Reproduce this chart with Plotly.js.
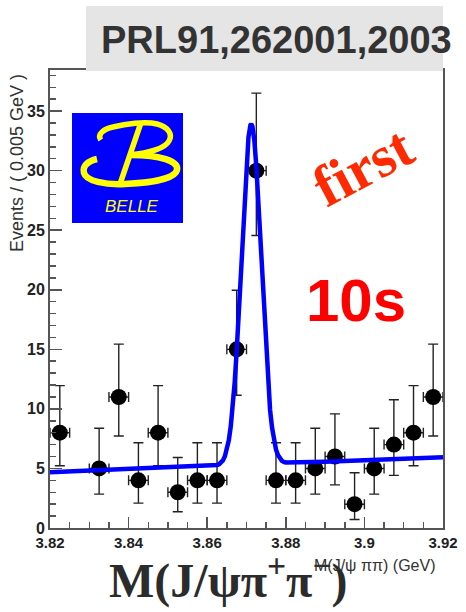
<!DOCTYPE html>
<html><head><meta charset="utf-8">
<script src="https://cdn.plot.ly/plotly-3.0.1.min.js"></script>
<style>html,body{margin:0;padding:0;background:#fff;overflow:hidden;} #chart{width:466px;height:612px;}</style>
</head><body><div id="chart"></div>
<script>
// ---- data ----
const binCenter = [3.8225, 3.8325, 3.8375, 3.8425, 3.8475, 3.8525, 3.8575, 3.8625, 3.8675, 3.8725,
                   3.8775, 3.8825, 3.8875, 3.8925, 3.8975, 3.9025, 3.9075, 3.9125, 3.9175];
const counts    = [8, 5, 11, 4, 8, 3, 4, 4, 15, 30, 4, 4, 5, 6, 2, 5, 7, 8, 11];
const errHigh   = [3.95, 3.38, 4.44, 3.16, 3.95, 2.92, 3.16, 3.16, 4.96, 6.51,
                   3.16, 3.16, 3.38, 3.58, 2.64, 3.38, 3.77, 3.95, 4.44];
const errLow    = [2.77, 2.16, 3.28, 1.91, 2.77, 1.63, 1.91, 1.91, 3.85, 5.45,
                   1.91, 1.91, 2.16, 2.38, 1.29, 2.16, 2.58, 2.77, 3.28];
const binHalfWidth = 0.0025;

const fitMass   = [3.82, 3.83, 3.84, 3.85, 3.86, 3.862, 3.8625, 3.863, 3.8635, 3.864, 3.8645, 3.865, 3.8655,
                   3.866, 3.8665, 3.867, 3.8675, 3.868, 3.8685, 3.869, 3.8695, 3.870, 3.8705, 3.871, 3.8712,
                   3.8715, 3.872, 3.8725, 3.873, 3.8735, 3.874, 3.8745, 3.875, 3.8755, 3.876, 3.8765, 3.877,
                   3.8775, 3.878, 3.8785, 3.879, 3.8795, 3.880, 3.89, 3.90, 3.91, 3.92];
const fitEvents = [4.68, 4.81, 4.93, 5.06, 5.18, 5.24, 5.28, 5.35, 5.47, 5.68, 6.03, 6.56, 7.37,
                   8.55, 10.15, 12.25, 14.84, 17.89, 21.25, 24.71, 28.0, 30.81, 32.81, 33.82, 33.92,
                   33.72, 32.53, 30.34, 27.44, 24.05, 20.66, 17.33, 14.38, 11.9, 9.91, 8.42, 7.34,
                   6.60, 6.12, 5.82, 5.64, 5.55, 5.50, 5.56, 5.69, 5.81, 5.94];

const xTickVals = [3.82, 3.84, 3.86, 3.88, 3.90, 3.92];
const xTickText = ['3.82', '3.84', '3.86', '3.88', '3.9', '3.92'];
const yTickVals = [0, 5, 10, 15, 20, 25, 30, 35];
const yTickText = ['0', '5', '10', '15', '20', '25', '30', '35'];

// ---- geometry helpers (pixel -> paper) ----
const PL = 50, PR = 443, PT = 70, PB = 528;
const fx = p => (p - PL) / (PR - PL);
const fy = p => (PB - p) / (PB - PT);
const P = s => s.replace(/(-?\d+\.?\d*),(-?\d+\.?\d*)/g, (m, a, b) => fx(+a).toFixed(5) + ',' + fy(+b).toFixed(5));

const SANS = 'Liberation Sans, Arial, Helvetica, sans-serif';
const SERIF = 'Liberation Serif, Times New Roman, serif';
const axisCol = '#555555';

const data = [
  {
    type: 'scatter', mode: 'markers', x: binCenter, y: counts,
    marker: {color: '#000000', size: 16},
    error_y: {type: 'data', symmetric: false, array: errHigh, arrayminus: errLow,
              color: '#222222', thickness: 1.4, width: 5},
    error_x: {type: 'constant', value: binHalfWidth, color: '#222222', thickness: 1.4, width: 5},
    hoverinfo: 'skip', showlegend: false
  },
  {
    type: 'scatter', mode: 'lines', x: fitMass, y: fitEvents,
    line: {color: '#0000ff', width: 4.5, shape: 'linear'},
    hoverinfo: 'skip', showlegend: false
  }
];

const shapes = [
  {type: 'rect', xref: 'paper', yref: 'paper', x0: fx(86), x1: fx(443), y0: fy(71), y1: fy(6),
   fillcolor: '#e5e5e5', line: {width: 0}, layer: 'above'},
  {type: 'rect', xref: 'paper', yref: 'paper', x0: fx(72), x1: fx(183), y0: fy(223), y1: fy(113),
   fillcolor: '#0000ff', line: {width: 0}, layer: 'above'},
  {type: 'path', xref: 'paper', yref: 'paper', layer: 'above',
   path: P('M 100.7,140 C 97,134 104,129 113,127 C 125,124 145,121 157,124 C 168,127 173,134 169,141 C 165,148 150,153 130,155'),
   line: {color: '#ffff00', width: 5.5}},
  {type: 'path', xref: 'paper', yref: 'paper', layer: 'above',
   path: P('M 140.5,124 L 120,184'),
   line: {color: '#ffff00', width: 5.5}},
  {type: 'path', xref: 'paper', yref: 'paper', layer: 'above',
   path: P('M 97,159 C 88,161 82,166 84,173 C 86,181 105,185 125,184 C 150,183 175,179 177,170 C 179,161 160,155 131,155'),
   line: {color: '#ffff00', width: 6.5}}
];

const ann = (text, x, y, font, extra) => Object.assign({
  text, xref: 'paper', yref: 'paper', x: fx(x), y: fy(y), showarrow: false,
  xanchor: 'center', yanchor: 'middle', font
}, extra || {});

const annotations = [
  ann('PRL91,262001,2003', 276, 40, {family: SANS, size: 38, color: '#333333', weight: 'bold'}),
  ann('<i>BELLE</i>', 132, 206, {family: SANS, size: 17, color: '#ffff00'}),
  ann('first', 363, 166, {family: SERIF, size: 58, color: '#ff2a00', weight: 'bold'}, {textangle: -28}),
  ann('10s', 356, 300, {family: SANS, size: 60, color: '#ff0000', weight: 'bold'}),
  ann('Events / ( 0.005 GeV )', 17, 72, {family: SANS, size: 18, color: '#333333'}, {textangle: -90, yanchor: 'top'}),
  ann('M(J/ψπ<sup>+</sup>π<sup>−</sup>)', 228, 577, {family: SERIF, size: 48, color: '#2b2b2b', weight: 'bold'}),
  ann('M(J/ψ ππ) (GeV)', 437, 565, {family: SANS, size: 16, color: '#333333'}, {xanchor: 'right'})
];

const layout = {
  width: 466, height: 612,
  margin: {l: PL, r: 466 - PR, t: PT, b: 612 - PB, pad: 0},
  paper_bgcolor: '#ffffff', plot_bgcolor: '#ffffff',
  showlegend: false, hovermode: false,
  xaxis: {
    range: [3.82, 3.92], tickmode: 'array', tickvals: xTickVals, ticktext: xTickText,
    ticks: 'inside', ticklen: 11, tickwidth: 1.5, tickcolor: axisCol,
    showline: true, linecolor: axisCol, linewidth: 2, mirror: true,
    showgrid: false, zeroline: false,
    tickfont: {family: SANS, size: 15, color: '#222222', weight: 'bold'},
    minor: {tickmode: 'linear', tick0: 3.82, dtick: 0.005, ticks: 'inside', ticklen: 6, tickwidth: 1.5, tickcolor: axisCol, showgrid: false}
  },
  yaxis: {
    range: [0, 38.45], tickmode: 'array', tickvals: yTickVals, ticktext: yTickText,
    ticks: 'inside', ticklen: 12, tickwidth: 1.5, tickcolor: axisCol,
    showline: true, linecolor: axisCol, linewidth: 2, mirror: true,
    showgrid: false, zeroline: false,
    tickfont: {family: SANS, size: 16, color: '#222222', weight: 'bold'},
    minor: {tickmode: 'linear', tick0: 0, dtick: 1, ticks: 'inside', ticklen: 6, tickwidth: 1.5, tickcolor: axisCol, showgrid: false}
  },
  shapes, annotations
};

Plotly.newPlot('chart', data, layout, {staticPlot: true, displayModeBar: false});
</script>
</body></html>
